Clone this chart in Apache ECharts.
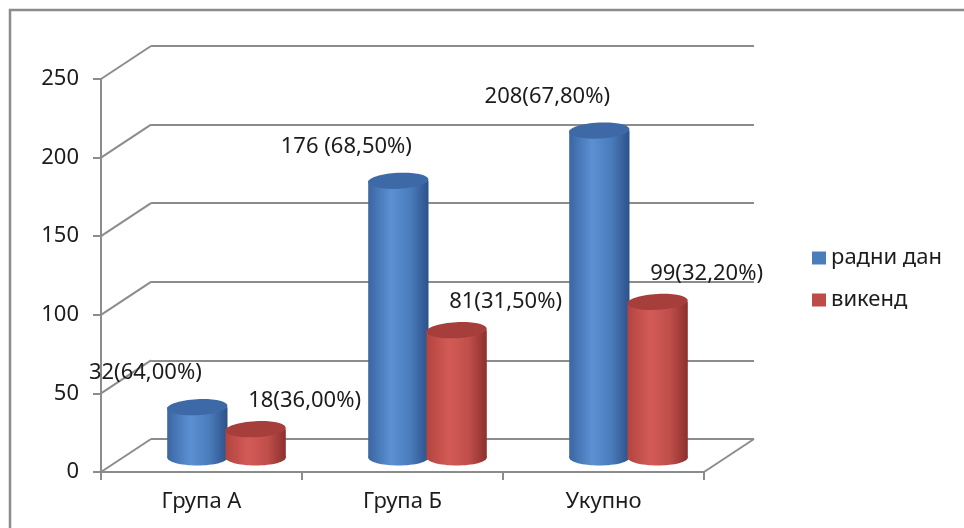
<!DOCTYPE html>
<html>
<head>
<meta charset="utf-8">
<script src="https://cdn.jsdelivr.net/npm/echarts@6/dist/echarts.min.js"></script>
<style>
  html, body { margin: 0; padding: 0; background: #ffffff; }
  #chart { width: 964px; height: 528px; }
</style>
</head>
<body>
<div id="chart"></div>
<script>
// Categories, series and values
const categories = ['Група А', 'Група Б', 'Укупно'];
const seriesNames = ['радни дан', 'викенд'];
const workdayValues = [32, 176, 208];
const weekendValues = [18, 81, 99];
const workdayShares = ['64,00%', '68,50%', '67,80%'];
const weekendShares = ['36,00%', '31,50%', '32,20%'];
const workdayLabelGaps = ['', ' ', ''];
const weekendLabelGaps = ['', '', ''];
const yTicks = [0, 50, 100, 150, 200, 250];

// Depth of the pseudo-3D box (front plane -> back wall)
const DEPTH_X = 50;
const DEPTH_Y = -33;
const FONT = '"Noto Sans", "DejaVu Sans", sans-serif';
const TEXT_COLOR = '#1c1c1c';
const LINE_COLOR = '#8c8c8c';

const chart = echarts.init(document.getElementById('chart'), null, { renderer: 'canvas' });

function buildLabels(values, gaps, shares) {
  return values.map((v, i) => v + gaps[i] + '(' + shares[i] + ')');
}

function cylinderRenderer(side, palette, labels, labelDx, labelDy) {
  return function (params, api) {
    const idx = api.value(0);
    const v = api.value(1);
    const base = api.coord([idx, 0]);
    const top = api.coord([idx, v]);
    const band = api.size([1, 0])[0];
    const cx = base[0] + side * band * 0.145;
    const rx = band * 0.15;
    const ry = 8;
    const bodyFill = new echarts.graphic.LinearGradient(0, 0, 1, 0, [
      { offset: 0, color: palette.edge },
      { offset: 0.38, color: palette.light },
      { offset: 0.7, color: palette.mid },
      { offset: 1, color: palette.dark }
    ]);
    return {
      type: 'group',
      children: [
        { type: 'ellipse', shape: { cx: cx, cy: base[1], rx: rx, ry: ry }, style: { fill: bodyFill } },
        { type: 'rect', shape: { x: cx - rx, y: top[1], width: rx * 2, height: base[1] - top[1] }, style: { fill: bodyFill } },
        {
          type: 'ellipse',
          shape: { cx: cx, cy: top[1], rx: rx, ry: ry },
          rotation: 0.05, originX: cx, originY: top[1],
          style: { fill: palette.cap }
        },
        {
          type: 'text',
          style: {
            text: labels[params.dataIndex],
            x: cx + labelDx, y: top[1] + labelDy,
            align: 'center', verticalAlign: 'middle',
            fontFamily: FONT, fontSize: 22, fill: TEXT_COLOR
          }
        }
      ]
    };
  };
}

// Diagonal edges that join the front axis to the back wall
function depthEdges(params, api) {
  const cs = params.coordSys;
  const v = api.value(1);
  const p = api.coord([0, v]);
  const style = { stroke: LINE_COLOR, lineWidth: 2 };
  const children = [
    { type: 'line', shape: { x1: cs.x, y1: p[1], x2: cs.x + DEPTH_X, y2: p[1] + DEPTH_Y }, style: style }
  ];
  if (v === 0) {
    children.push({
      type: 'line',
      shape: { x1: cs.x + cs.width, y1: p[1], x2: cs.x + cs.width + DEPTH_X, y2: p[1] + DEPTH_Y },
      style: style
    });
  }
  return { type: 'group', children: children };
}

const blue = { edge: '#3a66a2', light: '#5b90d3', mid: '#4a7cbc', dark: '#2c5189', cap: '#3d69a6' };
const red = { edge: '#b3443f', light: '#d35b57', mid: '#c04e4a', dark: '#8c302d', cap: '#a63e3b' };

const frontGrid = { left: 101, top: 79, width: 603, height: 393 };
const backGrid = { left: frontGrid.left + DEPTH_X, top: frontGrid.top + DEPTH_Y, width: 603, height: 393 };
const midGrid = { left: frontGrid.left + DEPTH_X / 2, top: frontGrid.top + DEPTH_Y / 2 + 2, width: 603, height: 393 };

const valueAxisBase = { type: 'value', min: 0, max: 250, interval: 50 };

chart.setOption({
  animation: false,
  backgroundColor: '#ffffff',
  graphic: [{
    type: 'rect',
    shape: { x: 10, y: 10, width: 1000, height: 1000 },
    style: { fill: 'none', stroke: LINE_COLOR, lineWidth: 2.5 },
    silent: true
  }],
  legend: {
    data: seriesNames,
    orient: 'vertical',
    left: 807, top: 242,
    itemWidth: 14, itemHeight: 13,
    itemGap: 20,
    itemTextGap: 8,
    icon: 'rect',
    textStyle: { fontFamily: FONT, fontSize: 22, color: TEXT_COLOR }
  },
  grid: [
    Object.assign({ containLabel: false }, frontGrid),
    Object.assign({ containLabel: false }, backGrid),
    Object.assign({ containLabel: false }, midGrid)
  ],
  xAxis: [
    {
      type: 'category', gridIndex: 0, data: categories,
      axisLine: { show: true, lineStyle: { color: LINE_COLOR, width: 2 } },
      axisTick: { show: true, length: 8, lineStyle: { color: LINE_COLOR, width: 2 } },
      axisLabel: { margin: 19, fontFamily: FONT, fontSize: 22, color: TEXT_COLOR },
      splitLine: { show: false }
    },
    { type: 'category', gridIndex: 1, data: categories, show: false },
    { type: 'category', gridIndex: 2, data: categories, show: false }
  ],
  yAxis: [
    Object.assign({}, valueAxisBase, {
      gridIndex: 0,
      axisLine: { show: true, lineStyle: { color: LINE_COLOR, width: 2 } },
      axisTick: { show: true, length: 8, lineStyle: { color: LINE_COLOR, width: 2 } },
      axisLabel: {
        margin: 22, fontFamily: FONT, fontSize: 22, color: TEXT_COLOR,
        formatter: (v) => (yTicks.indexOf(v) >= 0 ? String(v) : '')
      },
      splitLine: { show: false }
    }),
    Object.assign({}, valueAxisBase, {
      gridIndex: 1,
      axisLine: { show: false }, axisTick: { show: false }, axisLabel: { show: false },
      splitLine: { show: true, lineStyle: { color: LINE_COLOR, width: 2 } }
    }),
    Object.assign({}, valueAxisBase, {
      gridIndex: 2, show: false, splitLine: { show: false }
    })
  ],
  series: [
    {
      type: 'custom', name: 'edges', xAxisIndex: 0, yAxisIndex: 0,
      data: yTicks.map((v) => [0, v]),
      renderItem: depthEdges, silent: true, z: 1
    },
    {
      type: 'custom', name: seriesNames[0], xAxisIndex: 2, yAxisIndex: 2,
      itemStyle: { color: '#4a7ebb' },
      data: workdayValues.map((v, i) => [i, v]),
      renderItem: cylinderRenderer(-1, blue, buildLabels(workdayValues, workdayLabelGaps, workdayShares), -52, -34),
      z: 3
    },
    {
      type: 'custom', name: seriesNames[1], xAxisIndex: 2, yAxisIndex: 2,
      itemStyle: { color: '#be4b48' },
      data: weekendValues.map((v, i) => [i, v]),
      renderItem: cylinderRenderer(1, red, buildLabels(weekendValues, weekendLabelGaps, weekendShares), 49, -28),
      z: 4
    }
  ]
});
</script>
</body>
</html>
